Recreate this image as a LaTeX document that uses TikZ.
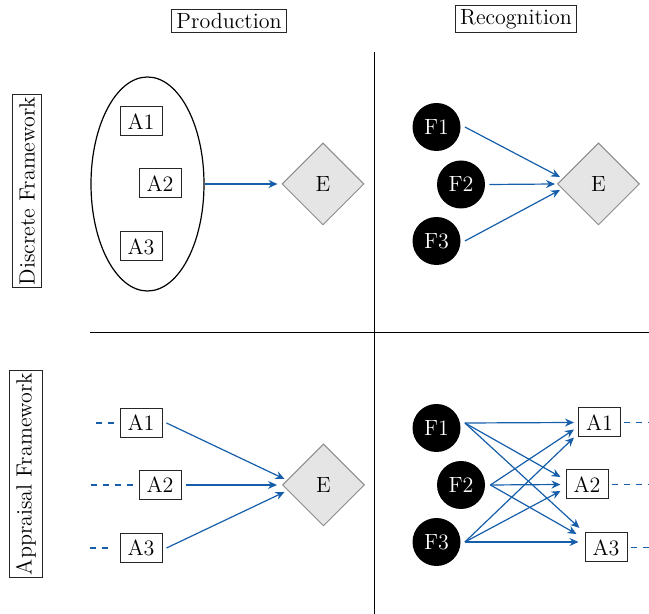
\documentclass[tikz,border=0pt]{standalone}
\usetikzlibrary{shapes.geometric,arrows.meta,calc}
\definecolor{linkblue}{RGB}{22,94,170}
\definecolor{emofill}{RGB}{229,229,229}
\begin{document}
\begin{tikzpicture}[x=0.5pt,y=-0.5pt,font=\fontsize{11}{13}\selectfont,
  abox/.style={draw=black!85,line width=0.5pt,inner sep=1.5pt,minimum height=14.5pt,minimum width=21pt},
  lbl/.style={draw=black!85,line width=0.5pt,inner xsep=2.5pt,inner ysep=1.8pt},
  sidelbl/.style={lbl,rotate=90,inner xsep=1.2pt,inner ysep=3.3pt},
  feat/.style={circle,fill=black,text=white,minimum size=24pt,inner sep=0pt},
  emo/.style={diamond,draw=black!45,fill=emofill,line width=0.5pt,minimum size=41pt,inner sep=0pt},
  link/.style={draw=linkblue,line width=0.6pt,-{Stealth[length=4.5pt,width=4pt]}},
  tail/.style={draw=linkblue,line width=0.8pt,dashed},
  rule/.style={draw=black,line width=0.5pt}]
\useasboundingbox (0,0) rectangle (649,614);

% column and row headings
\node[lbl] (hprod) at (229,21) {Production};
\node[lbl] (hrec) at (516,19) {Recognition};
\node[sidelbl] (hdisc) at (27,191) {Discrete Framework};
\node[sidelbl] (happ) at (26,474) {Appraisal Framework};

% quadrant dividers
\draw[rule] (374,52) -- (374,614);
\draw[rule] (90,333) -- (649,333);

% discrete production
\node[draw=black,line width=0.6pt,ellipse,minimum width=56.5pt,minimum height=107pt,inner sep=0pt] (grp) at (147.5,184) {};
\node[abox] (dA1) at (141,121.5) {A1};
\node[abox] (dA2) at (160,183.5) {A2};
\node[abox] (dA3) at (141,246.5) {A3};
\node[emo] (dE1) at (323,184) {E};
\draw[link] (grp.east) -- ($(dE1.west)+(-4,0)$);

% discrete recognition
\node[feat] (dF1) at (436.5,127) {F1};
\node[feat] (dF2) at (461,184.5) {F2};
\node[feat] (dF3) at (436.5,241) {F3};
\node[emo] (dE2) at (598.5,184) {E};
\draw[link] ($(dF1.east)+(4,0)$) -- ($(dE2.west)+(3,-7)$);
\draw[link] ($(dF2.east)+(4,0)$) -- ($(dE2.west)+(-2,0)$);
\draw[link] ($(dF3.east)+(4,0)$) -- ($(dE2.west)+(3,6)$);

% appraisal production
\node[abox] (pA1) at (141,423) {A1};
\node[abox] (pA2) at (160,485) {A2};
\node[abox] (pA3) at (141,548) {A3};
\node[emo] (pE) at (323.5,485) {E};
\draw[link] ($(pA1.east)+(4,0)$) -- ($(pE.west)+(2.5,-6)$);
\draw[link] ($(pA2.east)+(4,0)$) -- ($(pE.west)+(-5,0)$);
\draw[link] ($(pA3.east)+(4,0)$) -- ($(pE.west)+(2.5,7)$);
\draw[tail] ($(pA1.west)+(-24,0)$) -- ($(pA1.west)+(-4,0)$);
\draw[tail] ($(pA2.west)+(-48,0)$) -- ($(pA2.west)+(-4,0)$);
\draw[tail] ($(pA3.west)+(-30,0)$) -- ($(pA3.west)+(-9,0)$);

% appraisal recognition
\node[feat] (rF1) at (436.5,428) {F1};
\node[feat] (rF2) at (461,485) {F2};
\node[feat] (rF3) at (436.5,542) {F3};
\node[abox] (rA1) at (599.5,422.5) {A1};
\node[abox] (rA2) at (587,484.5) {A2};
\node[abox] (rA3) at (606,547.5) {A3};
\coordinate (s1) at ($(rF1.east)+(4,-5)$);
\coordinate (s2) at ($(rF2.east)+(5,0)$);
\coordinate (s3) at ($(rF3.east)+(4,0)$);
\draw[link] (s1) -- ($(rA1.west)+(-4,0)$);
\draw[link] (s1) -- ($(rA2.west)+(-5,-7.5)$);
\draw[link] (s1) -- ($(rA3.west)+(-5,-19.5)$);
\draw[link] (s2) -- ($(rA1.west)+(-4,7)$);
\draw[link] (s2) -- ($(rA2.west)+(-5,0)$);
\draw[link] (s2) -- ($(rA3.west)+(-8,-13.5)$);
\draw[link] (s3) -- ($(rA1.west)+(-4,15)$);
\draw[link] (s3) -- ($(rA2.west)+(-5,6.5)$);
\draw[link] (s3) -- ($(rA3.west)+(-6,-5.5)$);
\draw[tail] ($(rA1.east)+(3,0)$) -- ($(rA1.east)+(28,0)$);
\draw[tail] ($(rA2.east)+(3,0)$) -- ($(rA2.east)+(41,0)$);
\draw[tail] ($(rA3.east)+(3,0)$) -- ($(rA3.east)+(22,0)$);
\end{tikzpicture}
\end{document}
